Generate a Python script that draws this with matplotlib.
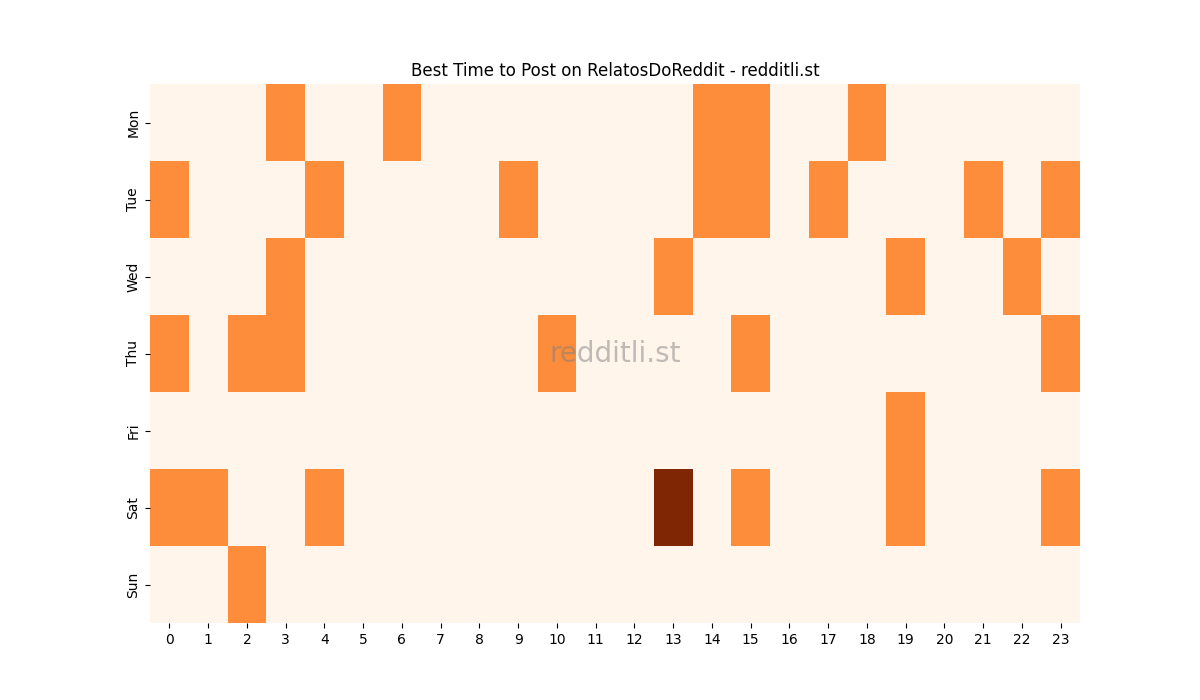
import numpy as np
import matplotlib
matplotlib.use('Agg')
import matplotlib.pyplot as plt
import seaborn as sns

days = ['Mon', 'Tue', 'Wed', 'Thu', 'Fri', 'Sat', 'Sun']
hours = list(range(24))

# hours with a "good" score (1) per day, plus the single best slot (2)
mon = [3, 6, 14, 15, 18]
tue = [0, 4, 9, 14, 15, 17, 21, 23]
wed = [3, 13, 19, 22]
thu = [0, 2, 3, 10, 15, 23]
fri = [19]
sat = [0, 1, 4, 15, 19, 23]
sun = [2]
best = ('Sat', 13)

grid = np.zeros((len(days), len(hours)))
for i, hrs in enumerate([mon, tue, wed, thu, fri, sat, sun]):
    for h in hrs:
        grid[i, h] = 1
grid[days.index(best[0]), best[1]] = 2

fig = plt.figure(figsize=(12, 7), dpi=100)
ax = fig.add_subplot(111)
sns.heatmap(grid, cmap='Oranges', cbar=False, ax=ax,
            xticklabels=hours, yticklabels=days)
ax.set_title('Best Time to Post on RelatosDoReddit - redditli.st')
plt.setp(ax.get_yticklabels(), rotation=90, va='center')
plt.setp(ax.get_xticklabels(), rotation=0)
ax.text(0.5, 0.5, 'redditli.st', transform=ax.transAxes, fontsize=20,
        color='gray', alpha=0.5, ha='center', va='center')

fig.savefig('out.png')
